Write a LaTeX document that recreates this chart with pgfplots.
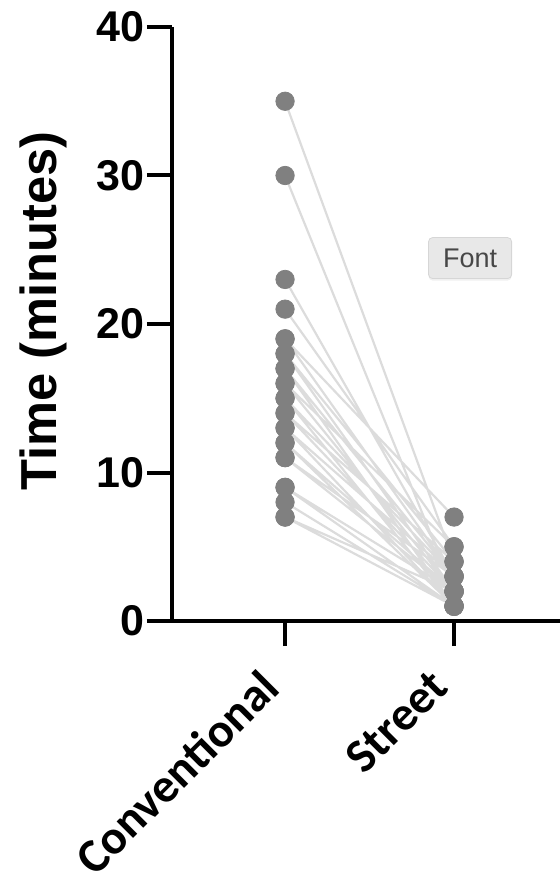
\documentclass[border=0pt]{standalone}
\usepackage{fontspec}
\setmainfont{Liberation Sans}
\newfontfamily\carlito{Carlito}
\usepackage{pgfplots}
\pgfplotsset{compat=1.18}
\usepackage{pgfplotstable}
\usetikzlibrary{shadows}

\definecolor{pairline}{HTML}{DCDCDC}
\definecolor{dotgray}{HTML}{808080}

% paired times: x=0 conventional, x=1 street; nan rows break the lines
\pgfplotstableread{
x y
0 35
1 4
nan nan
0 30
1 2
nan nan
0 23
1 3
nan nan
0 21
1 5
nan nan
0 19
1 7
nan nan
0 19
1 3
nan nan
0 18
1 2
nan nan
0 18
1 4
nan nan
0 17
1 3
nan nan
0 17
1 1
nan nan
0 16
1 2
nan nan
0 16
1 5
nan nan
0 15
1 1
nan nan
0 15
1 3
nan nan
0 14
1 2
nan nan
0 14
1 4
nan nan
0 13
1 1
nan nan
0 13
1 3
nan nan
0 12
1 2
nan nan
0 12
1 1
nan nan
0 11
1 2
nan nan
0 11
1 3
nan nan
0 9
1 1
nan nan
0 9
1 2
nan nan
0 8
1 1
nan nan
0 7
1 2
nan nan
0 7
1 1
}\pairs

\begin{document}
\begin{tikzpicture}
\begin{axis}[
    name=ax,
    scale only axis,
    width=194pt, height=297pt,
    xmin=-0.669, xmax=1.627,
    ymin=0, ymax=40,
    axis lines=left,
    axis line style={-, line width=2pt, black},
    xtick={0,1},
    xticklabels={Conventional, Street},
    ytick={0,10,20,30,40},
    tick align=outside,
    major tick length=12.5pt,
    major tick style={line width=2pt, black},
    /pgf/number format/assume math mode=true,
    yticklabel style={font=\fontsize{21.5}{25}\selectfont\bfseries, inner sep=1.2pt},
    xticklabel style={font=\carlito\fontsize{24}{28}\selectfont\bfseries,
                      xshift=-6pt, yshift=-15pt, rotate=45, anchor=east, inner sep=2pt},
    ylabel={Time (minutes)},
    ylabel style={font=\fontsize{25.3}{30}\selectfont\bfseries,
                  at={(rel axis cs:-0.332,0.522)}, anchor=center, rotate=0},
    clip=false,
    unbounded coords=jump,
]
\addplot[no marks, color=pairline, line width=1.1pt] table {\pairs};
\addplot[only marks, color=dotgray, mark=*, mark size=4.6pt,
         mark options={fill=dotgray, draw=dotgray}] table {\pairs};

% stray "Font" tooltip visible in the source screenshot
\node[draw=black!16, fill=black!9, rounded corners=2pt,
      drop shadow={opacity=0.12, shadow xshift=0pt, shadow yshift=-1pt},
      text=black!72, font=\fontsize{13.5}{15}\selectfont,
      minimum width=41.5pt, minimum height=20.5pt, inner sep=0pt]
    at (axis cs:1.095,24.44) {Font};
\end{axis}
\pgfresetboundingbox
\path ([shift={(-86pt,-125pt)}]ax.south west) rectangle ([shift={(0pt,13.5pt)}]ax.north east);
\end{tikzpicture}
\end{document}
